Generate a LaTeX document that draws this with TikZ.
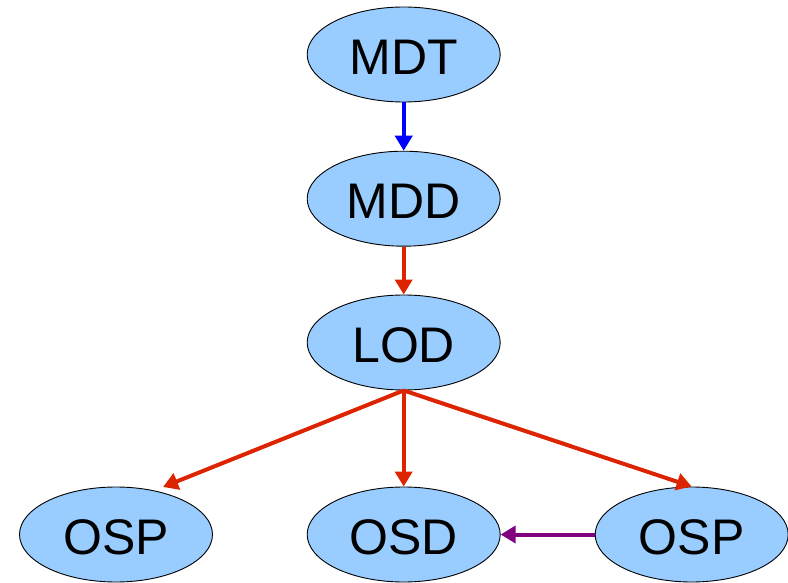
\documentclass[tikz,border=0pt]{standalone}
\usepackage{fontspec}
\setmainfont{Liberation Sans}
\usetikzlibrary{arrows.meta,shapes.geometric}
\definecolor{nodefill}{RGB}{153,204,255}
\definecolor{linkred}{RGB}{221,36,0}
\definecolor{linkblue}{RGB}{0,0,255}
\definecolor{linkpurple}{RGB}{128,0,128}
\tikzset{
  oval/.style={ellipse, draw=black, line width=0.9pt, fill=nodefill,
    minimum width=193pt, minimum height=95pt, inner sep=0pt,
    font=\fontsize{50}{55}\selectfont, text height=40pt, text depth=0pt},
  link/.style={line width=4pt, -{Triangle[width=17pt,length=15pt]}},
}
\begin{document}
\begin{tikzpicture}[x=1pt,y=-1pt]
  \useasboundingbox (0,0) rectangle (788,583);

  % chain of nodes
  \node[oval] (mdt)  at (403.7,54.5)  {MDT};
  \node[oval] (mdd)  at (403.7,198.7) {MDD};
  \node[oval] (lod)  at (403.7,342.5) {LOD};
  \node[oval] (ospl) at (116,534.5)   {OSP};
  \node[oval] (osd)  at (403.7,534.5) {OSD};
  \node[oval] (ospr) at (691.7,534.5) {OSP};

  \coordinate (ospltip) at (163,487);

  % connectors
  \draw[link, draw=linkblue, fill=linkblue] (mdt.south) -- (mdd.north);
  \draw[link, draw=linkred, fill=linkred] (mdd.south) -- (lod.north);
  \draw[link, draw=linkred, fill=linkred] (lod.south) -- (ospltip);
  \draw[link, draw=linkred, fill=linkred] (lod.south) -- (osd.north);
  \draw[link, draw=linkred, fill=linkred] (lod.south) -- (ospr.north);
  \draw[link, draw=linkpurple, fill=linkpurple] (ospr.west) -- (osd.east);
\end{tikzpicture}
\end{document}
